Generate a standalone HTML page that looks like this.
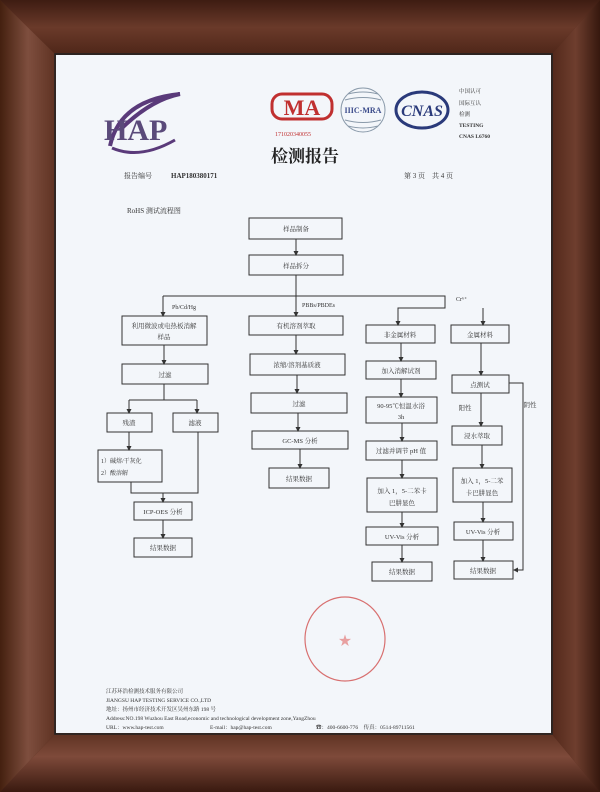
<!DOCTYPE html>
<html><head><meta charset="utf-8"><style>
html,body{margin:0;padding:0;width:600px;height:792px;overflow:hidden;background:#4a2418}
svg{display:block}
text{font-family:"Liberation Serif","Noto Serif CJK SC","Noto Sans CJK SC",serif;fill:#333}
</style></head><body>
<svg width="600" height="792" viewBox="0 0 600 792" xmlns="http://www.w3.org/2000/svg">
<defs>
<linearGradient id="top" x1="0" y1="0" x2="0" y2="1"><stop offset="0" stop-color="#3e1c12"/><stop offset="0.5" stop-color="#6a3a2a"/><stop offset="1" stop-color="#4e2618"/></linearGradient>
<linearGradient id="bot" x1="0" y1="0" x2="0" y2="1"><stop offset="0" stop-color="#5e3222"/><stop offset="0.4" stop-color="#7e4a3a"/><stop offset="1" stop-color="#3a1a10"/></linearGradient>
<linearGradient id="lft" x1="0" y1="0" x2="1" y2="0"><stop offset="0" stop-color="#44200f"/><stop offset="0.5" stop-color="#7e4e3e"/><stop offset="1" stop-color="#5e3222"/></linearGradient>
<linearGradient id="rgt" x1="0" y1="0" x2="1" y2="0"><stop offset="0" stop-color="#52281a"/><stop offset="0.5" stop-color="#6e3e2e"/><stop offset="1" stop-color="#36180e"/></linearGradient>
<marker id="a" markerWidth="5" markerHeight="5" refX="4" refY="2.5" orient="auto"><path d="M0,0 L5,2.5 L0,5z" fill="#333"/></marker>
</defs>
<polygon points="0,0 600,0 551,55 56,55" fill="url(#top)"/>
<polygon points="0,792 600,792 551,733 56,733" fill="url(#bot)"/>
<polygon points="0,0 56,55 56,733 0,792" fill="url(#lft)"/>
<polygon points="600,0 551,55 551,733 600,792" fill="url(#rgt)"/>
<rect x="55" y="54" width="497" height="680" fill="none" stroke="#222" stroke-width="1.5"/>
<rect x="56" y="55" width="495" height="678" fill="#f3f6fa"/>

<!-- logos -->
<path d="M110,146 Q120,100 180,94 Q150,100 120,130" fill="none" stroke="#5a3a7a" stroke-width="4"/>
<text x="104" y="140" font-family="Liberation Sans" font-size="30" font-weight="bold" style="fill:#5a4a7a">HAP</text>
<path d="M112,148 Q140,160 175,140" fill="none" stroke="#5a3a7a" stroke-width="3"/>
<rect x="272" y="94" width="60" height="25" rx="10" fill="none" stroke="#c03030" stroke-width="3"/>
<text x="302" y="115" text-anchor="middle" font-family="Liberation Sans" font-size="22" font-weight="bold" style="fill:#c03030">MA</text>
<text x="275" y="136" font-family="Liberation Sans" font-size="6" style="fill:#c03030">171020340055</text>
<circle cx="363" cy="110" r="22" fill="none" stroke="#8a9aaa" stroke-width="1"/>
<path d="M345,100 Q363,95 381,100 M345,120 Q363,125 381,120 M348,94 Q363,90 378,94 M348,126 Q363,130 378,126" stroke="#8a9aaa" fill="none"/>
<text x="363" y="113" text-anchor="middle" font-family="Liberation Sans" font-size="8" font-weight="bold" style="fill:#3a4a8a">IIIC-MRA</text>
<ellipse cx="422" cy="110" rx="26" ry="18" fill="none" stroke="#2a3a7a" stroke-width="3"/>
<text x="422" y="116" text-anchor="middle" font-family="Liberation Sans" font-size="16" font-weight="bold" font-style="italic" style="fill:#2a3a7a">CNAS</text>
<g font-size="5.5" font-family="Liberation Sans,Noto Sans CJK SC,sans-serif">
<text x="459" y="93">中国认可</text><text x="459" y="105">国际互认</text><text x="459" y="116">检测</text>
<text x="459" y="127" font-weight="bold">TESTING</text><text x="459" y="138" font-weight="bold">CNAS L6760</text></g>
<text x="305" y="162" text-anchor="middle" font-size="17" font-weight="bold" style="fill:#222">检测报告</text>
<text x="124" y="178" font-size="7">报告编号</text>
<text x="171" y="178" font-size="7" font-weight="bold">HAP180380171</text>
<text x="404" y="178" font-size="7">第 3 页　共 4 页</text>
<text x="127" y="213" font-size="7">RoHS 测试流程图</text>

<!-- flowchart -->
<g fill="none" stroke="#333" stroke-width="1">
<rect x="249" y="218" width="93" height="21"/><rect x="249" y="255" width="94" height="20"/>
<rect x="122" y="316" width="85" height="29"/><rect x="249" y="316" width="94" height="19"/>
<rect x="366" y="325" width="69" height="18"/><rect x="451" y="325" width="58" height="18"/>
<rect x="122" y="364" width="86" height="20"/><rect x="250" y="354" width="95" height="21"/>
<rect x="366" y="361" width="70" height="18"/><rect x="452" y="375" width="57" height="18"/>
<rect x="107" y="413" width="45" height="19"/><rect x="173" y="413" width="45" height="19"/>
<rect x="251" y="393" width="96" height="20"/><rect x="366" y="397" width="71" height="26"/>
<rect x="452" y="426" width="50" height="19"/>
<rect x="98" y="450" width="64" height="32"/><rect x="252" y="431" width="96" height="18"/>
<rect x="366" y="441" width="71" height="19"/><rect x="453" y="468" width="59" height="34"/>
<rect x="269" y="468" width="60" height="20"/><rect x="367" y="478" width="70" height="34"/>
<rect x="134" y="502" width="58" height="18"/><rect x="366" y="527" width="72" height="18"/>
<rect x="454" y="522" width="59" height="18"/>
<rect x="134" y="538" width="58" height="19"/><rect x="372" y="562" width="60" height="19"/>
<rect x="454" y="561" width="59" height="18"/>
</g>
<g fill="none" stroke="#333" stroke-width="1" marker-end="url(#a)">
<path d="M296,239V255"/>
<path d="M296,275V316"/>
<path d="M163,296V316"/>
<path d="M163,296H445V308H398V325"/>
<path d="M483,308V325"/>
<path d="M164,345V364"/><path d="M296,335V354"/><path d="M401,343V361"/><path d="M481,343V375"/>
<path d="M129,400V413"/><path d="M197,400V413"/>
<path d="M129,432V450"/>
<path d="M297,375V393"/><path d="M298,413V431"/><path d="M300,449V468"/>
<path d="M401,379V397"/><path d="M402,423V441"/><path d="M402,460V478"/><path d="M402,512V527"/><path d="M402,545V562"/>
<path d="M481,393V426"/><path d="M482,445V468"/><path d="M483,502V522"/><path d="M483,540V561"/>
<path d="M163,493V502"/><path d="M163,520V538"/>
<path d="M509,383H523V570H514"/>
</g>
<g fill="none" stroke="#333" stroke-width="1">
<path d="M164,384V400M129,400H197"/>
<path d="M131,482V493H198V432"/>
</g>
<g font-size="6.5" text-anchor="middle">
<text x="296" y="231">样品制备</text><text x="296" y="268">样品拆分</text>
<text x="164" y="328">利用微波或电热板消解</text><text x="164" y="339">样品</text>
<text x="296" y="328">有机溶剂萃取</text>
<text x="400" y="337">非金属材料</text><text x="480" y="337">金属材料</text>
<text x="165" y="377">过滤</text><text x="297" y="367">浓缩/溶剂基质液</text>
<text x="401" y="373">加入消解试剂</text><text x="480" y="387">点测试</text>
<text x="129" y="425">残渣</text><text x="195" y="425">滤液</text>
<text x="299" y="406">过滤</text><text x="401" y="408">90-95℃恒温水浴</text><text x="401" y="419">3h</text>
<text x="477" y="438">浸水萃取</text>
<text x="300" y="443">GC-MS 分析</text><text x="401" y="453">过滤并调节 pH 值</text>
<text x="482" y="483">加入 1，5-二苯</text><text x="482" y="495">卡巴肼显色</text>
<text x="299" y="481">结果数据</text>
<text x="402" y="493">加入 1，5-二苯卡</text><text x="402" y="505">巴肼显色</text>
<text x="163" y="514">ICP-OES 分析</text><text x="402" y="539">UV-Vis 分析</text><text x="483" y="534">UV-Vis 分析</text>
<text x="163" y="550">结果数据</text><text x="402" y="574">结果数据</text><text x="483" y="573">结果数据</text>
<text x="465" y="410">阳性</text><text x="530" y="407">阴性</text>
</g>
<g font-size="6">
<text x="101" y="463">1）碱熔/干灰化</text><text x="101" y="475">2）酸溶解</text>
<text x="172" y="309">Pb/Cd/Hg</text><text x="302" y="307">PBBs/PBDEs</text><text x="456" y="301">Cr⁶⁺</text>
</g>
<!-- stamp -->
<ellipse cx="345" cy="639" rx="40" ry="42" fill="none" stroke="#d87070" stroke-width="1.2"/>
<text x="345" y="645" text-anchor="middle" font-size="13" style="fill:#e8a0a0">★</text>
<!-- footer -->
<g font-size="5.5">
<text x="106" y="693">江苏环浩检测技术服务有限公司</text>
<text x="106" y="702">JIANGSU HAP TESTING SERVICE CO.,LTD</text>
<text x="106" y="711">地址：扬州市经济技术开发区吴州东路 198 号</text>
<text x="106" y="720">Address:NO.198 Wuzhou East Road,economic and technological development zone,YangZhou</text>
<text x="106" y="729">URL：www.hap-test.com</text><text x="210" y="729">E-mail：hap@hap-test.com</text>
<text x="316" y="729">☎：400-6600-776　传真：0514-89711561</text>
</g>
</svg>
</body></html>
